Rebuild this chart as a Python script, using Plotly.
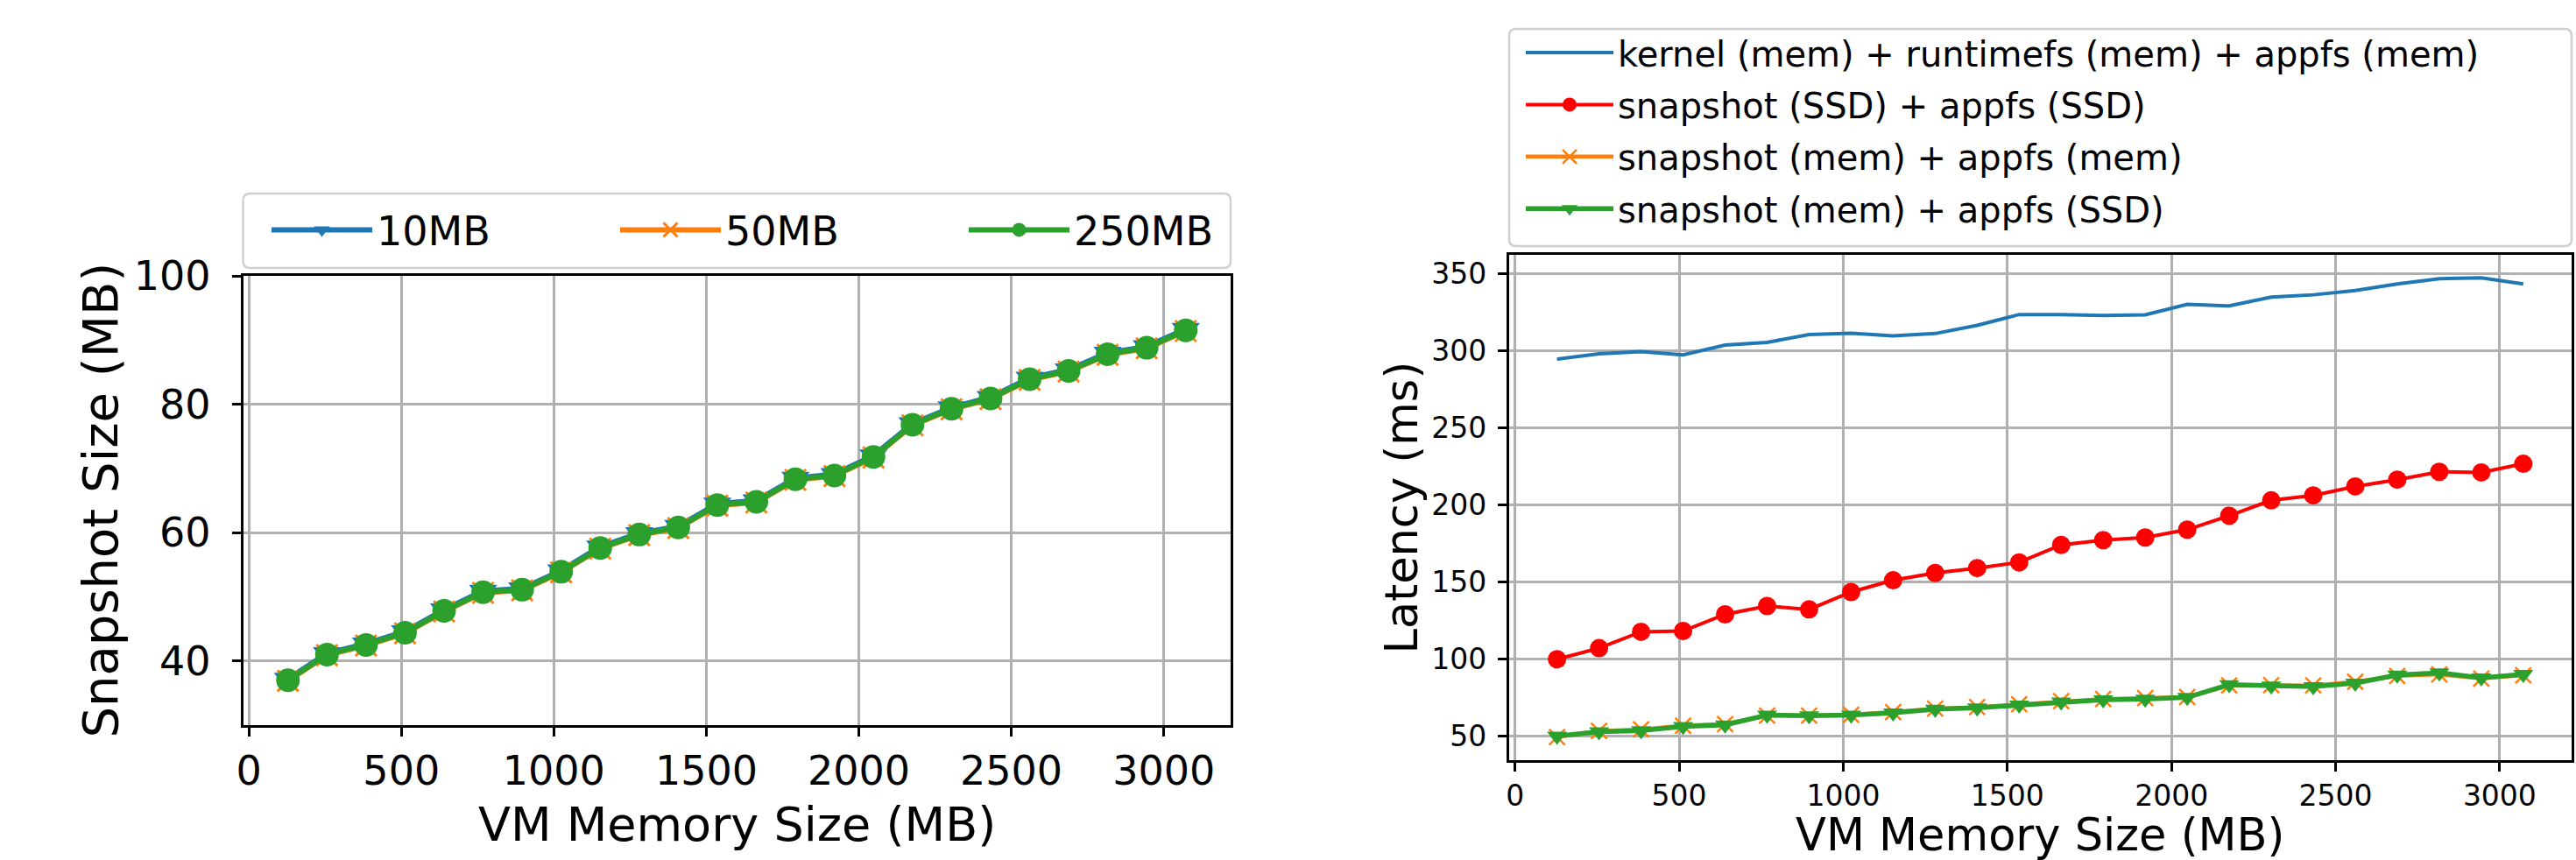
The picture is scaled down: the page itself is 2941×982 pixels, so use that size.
import plotly.graph_objects as go

W, H = 2941, 982


def fx(p):
    return p / W


def fy(p):
    return (H - p) / H


# ---------------- data ----------------
mem_mb = [128, 256, 384, 512, 640, 768, 896, 1024, 1152, 1280, 1408, 1536,
          1664, 1792, 1920, 2048, 2176, 2304, 2432, 2560, 2688, 2816, 2944, 3072]

snap_10mb = [37.2, 41.2, 42.7, 44.6, 48.0, 50.9, 51.3, 54.1, 57.8, 59.9, 61.0, 64.5,
             65.0, 68.5, 69.1, 72.0, 77.0, 79.5, 81.1, 84.1, 85.4, 88.0, 89.0, 91.7]
snap_50mb = [36.9, 40.9, 42.4, 44.3, 47.7, 50.6, 51.0, 53.8, 57.5, 59.6, 60.7, 64.2,
             64.7, 68.2, 68.8, 71.7, 76.7, 79.2, 80.8, 83.8, 85.1, 87.7, 88.7, 91.4]
snap_250mb = [37.0, 41.0, 42.5, 44.4, 47.8, 50.7, 51.1, 53.9, 57.6, 59.7, 60.8, 64.3,
              64.8, 68.3, 68.9, 71.8, 76.8, 79.3, 80.9, 83.9, 85.2, 87.8, 88.8, 91.5]

lat_kernel_mem = [294.5, 297.9, 299.4, 297.3, 303.6, 305.4, 310.4, 311.3, 309.6, 311.1, 316.4, 323.4,
                  323.4, 322.8, 323.2, 330.0, 329.0, 334.7, 336.2, 339.0, 343.2, 346.6, 347.2, 343.2]
lat_snap_ssd = [100.0, 107.2, 117.8, 118.3, 129.1, 134.5, 132.3, 143.6, 151.2, 155.9, 159.1, 162.8,
                174.1, 177.2, 178.9, 184.0, 193.0, 203.0, 206.2, 212.0, 216.4, 221.5, 221.1, 226.7]
lat_snap_mem_mem = [49.6, 53.5, 54.5, 57.0, 58.0, 63.5, 63.5, 64.0, 65.8, 68.0, 69.0, 70.8,
                    72.8, 74.2, 74.8, 75.6, 83.0, 83.2, 83.0, 85.4, 89.2, 90.2, 87.5, 89.6]
lat_snap_mem_ssd = [50.2, 53.0, 53.8, 56.4, 57.5, 63.8, 63.4, 63.8, 65.3, 67.6, 68.5, 70.4,
                    72.3, 73.8, 74.2, 75.3, 83.6, 82.7, 82.3, 84.6, 89.8, 91.2, 88.0, 90.2]

x_ticks = [0, 500, 1000, 1500, 2000, 2500, 3000]
left_y_ticks = [40, 60, 80, 100]
right_y_ticks = [50, 100, 150, 200, 250, 300, 350]

left_names = ["10MB", "50MB", "250MB"]
right_names = ["kernel (mem) + runtimefs (mem) + appfs (mem)",
               "snapshot (SSD) + appfs (SSD)",
               "snapshot (mem) + appfs (mem)",
               "snapshot (mem) + appfs (SSD)"]

BLUE, ORANGE, GREEN, RED = "#1f77b4", "#ff7f0e", "#2ca02c", "#ff0000"
FONT = "DejaVu Sans"

fig = go.Figure()

# ---------------- left panel ----------------
fig.add_trace(go.Scatter(x=mem_mb, y=snap_10mb, name=left_names[0], mode="lines+markers",
                         line=dict(color=BLUE, width=6),
                         marker=dict(symbol="triangle-down", size=28, color=BLUE),
                         xaxis="x", yaxis="y", legend="legend"))
fig.add_trace(go.Scatter(x=mem_mb, y=snap_50mb, name=left_names[1], mode="lines+markers",
                         line=dict(color=ORANGE, width=6),
                         marker=dict(symbol="x-thin", size=24, color=ORANGE,
                                     line=dict(color=ORANGE, width=3)),
                         xaxis="x", yaxis="y", legend="legend"))
fig.add_trace(go.Scatter(x=mem_mb, y=snap_250mb, name=left_names[2], mode="lines+markers",
                         line=dict(color=GREEN, width=6),
                         marker=dict(symbol="circle", size=27, color=GREEN),
                         xaxis="x", yaxis="y", legend="legend"))

# ---------------- right panel ----------------
fig.add_trace(go.Scatter(x=mem_mb, y=lat_kernel_mem, name=right_names[0], mode="lines",
                         line=dict(color=BLUE, width=4), legendgroup="r1",
                         xaxis="x2", yaxis="y2", legend="legend2"))
fig.add_trace(go.Scatter(x=mem_mb, y=lat_snap_ssd, name=right_names[1], mode="lines+markers",
                         line=dict(color=RED, width=4), legendgroup="r2",
                         marker=dict(symbol="circle", size=21, color=RED),
                         xaxis="x2", yaxis="y2", legend="legend2"))
fig.add_trace(go.Scatter(x=mem_mb, y=lat_snap_mem_mem, name=right_names[2], mode="lines+markers",
                         line=dict(color=ORANGE, width=4.5), legendgroup="r3",
                         marker=dict(symbol="x-thin", size=18, color=ORANGE,
                                     line=dict(color=ORANGE, width=2.5)),
                         xaxis="x2", yaxis="y2", legend="legend2"))
fig.add_trace(go.Scatter(x=mem_mb, y=lat_snap_mem_ssd, name=right_names[3], mode="lines+markers",
                         line=dict(color=GREEN, width=5.5), legendgroup="r4",
                         marker=dict(symbol="triangle-down", size=20, color=GREEN),
                         xaxis="x2", yaxis="y2", legend="legend2"))

axis_common = dict(showline=True, linecolor="black", linewidth=2.5, mirror=True,
                   ticks="outside", ticklen=10, tickwidth=2.5, tickcolor="black",
                   showgrid=True, gridcolor="#b0b0b0", gridwidth=2.5, zeroline=False,
                   color="black", automargin=False)

fig.update_layout(
    width=W, height=H,
    margin=dict(l=0, r=0, t=0, b=0, pad=0, autoexpand=False),
    paper_bgcolor="white", plot_bgcolor="white",
    font=dict(family=FONT, color="black"),
    xaxis=dict(domain=[fx(277.5), fx(1405)], range=[-19.2, 3219.2], tickvals=x_ticks,
               tickfont=dict(size=46), anchor="y", **axis_common),
    yaxis=dict(domain=[fy(828), fy(315)], range=[30, 100], tickvals=left_y_ticks,
               tickfont=dict(size=46), anchor="x", ticklabelstandoff=15, **axis_common),
    xaxis2=dict(domain=[fx(1722.5), fx(2936)], range=[-19.2, 3219.2], tickvals=x_ticks,
                tickfont=dict(size=33), anchor="y2", **axis_common),
    yaxis2=dict(domain=[fy(868), fy(291)], range=[34.6, 362.1], tickvals=right_y_ticks,
                tickfont=dict(size=33), anchor="x2", ticklabelstandoff=6, **axis_common),
    legend=dict(orientation="h", x=fx(305), y=fy(226), xanchor="left", yanchor="top",
                font=dict(size=46, family=FONT), itemwidth=115, entrywidth=268,
                bgcolor="rgba(0,0,0,0)", borderwidth=0, itemsizing="trace"),
    legend2=dict(orientation="v", x=fx(1737), y=fy(27.5), xanchor="left", yanchor="top",
                 font=dict(size=40, family=FONT), itemwidth=100, tracegroupgap=4.4,
                 bgcolor="rgba(0,0,0,0)", borderwidth=0, itemsizing="trace"),
    showlegend=True,
)


def rounded_box(x0, y0, x1, y1, r=8):
    # pixel coordinates -> paper coordinates, rounded corners
    X0, X1 = fx(x0), fx(x1)
    Y0, Y1 = fy(y1), fy(y0)
    rx, ry = r / W, r / H
    return (f"M {X0 + rx},{Y0} L {X1 - rx},{Y0} Q {X1},{Y0} {X1},{Y0 + ry} "
            f"L {X1},{Y1 - ry} Q {X1},{Y1} {X1 - rx},{Y1} "
            f"L {X0 + rx},{Y1} Q {X0},{Y1} {X0},{Y1 - ry} "
            f"L {X0},{Y0 + ry} Q {X0},{Y0} {X0 + rx},{Y0} Z")


fig.add_shape(type="path", xref="paper", yref="paper", layer="below",
              path=rounded_box(277.5, 221, 1405, 306),
              line=dict(color="#d0d0d0", width=2.5), fillcolor="white")
fig.add_shape(type="path", xref="paper", yref="paper", layer="below",
              path=rounded_box(1723, 33, 2936, 281),
              line=dict(color="#d0d0d0", width=2.5), fillcolor="white")

# axis titles
fig.add_annotation(text="VM Memory Size (MB)", xref="paper", yref="paper",
                   x=fx(841), y=fy(941), xanchor="center", yanchor="middle",
                   showarrow=False, font=dict(size=54, family=FONT, color="black"))
fig.add_annotation(text="Snapshot Size (MB)", xref="paper", yref="paper",
                   x=fx(114), y=fy(571.5), xanchor="center", yanchor="middle",
                   textangle=-90, showarrow=False,
                   font=dict(size=56, family=FONT, color="black"))
fig.add_annotation(text="VM Memory Size (MB)", xref="paper", yref="paper",
                   x=fx(2329), y=fy(953), xanchor="center", yanchor="middle",
                   showarrow=False, font=dict(size=51, family=FONT, color="black"))
fig.add_annotation(text="Latency (ms)", xref="paper", yref="paper",
                   x=fx(1600), y=fy(579.5), xanchor="center", yanchor="middle",
                   textangle=-90, showarrow=False,
                   font=dict(size=51, family=FONT, color="black"))

fig.write_html("out.html",
               config={"displayModeBar": False},
               post_script="document.body.style.margin='0px';"
                           "document.body.style.overflow='hidden';")
